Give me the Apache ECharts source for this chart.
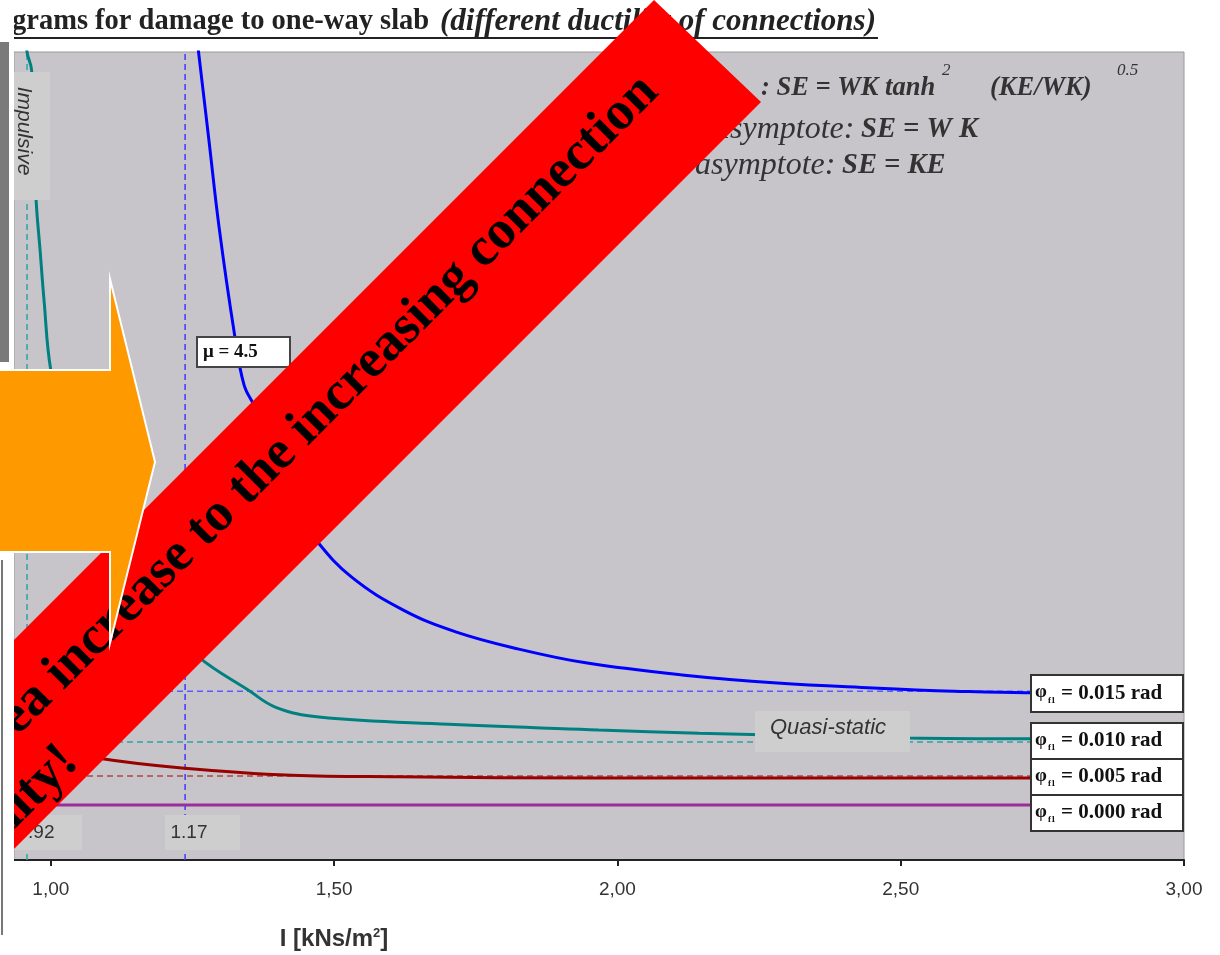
<!DOCTYPE html>
<html>
<head>
<meta charset="utf-8">
<script src="https://cdn.jsdelivr.net/npm/echarts@6/dist/echarts.min.js"></script>
<style>
  html, body { margin: 0; padding: 0; background: #fff; }
  #chart { width: 1220px; height: 955px; }
</style>
</head>
<body>
<div id="chart"></div>
<script>
// impulse i [kNs/m2] and strain energy (relative units)
const xTicks = [1.0, 1.5, 2.0, 2.5, 3.0];

const iPhi015 = [1.254, 1.279, 1.297, 1.323, 1.341, 1.362, 1.402, 1.438, 1.468, 1.531, 1.623, 1.716, 1.826, 1.944, 2.114, 2.282, 2.451, 2.594, 2.721, 3.0];
const sePhi015 = [104, 89.1, 78.3, 65.6, 58.8, 55.8, 48.3, 43.0, 39.6, 35.0, 30.9, 28.2, 26.1, 24.4, 22.9, 21.9, 21.3, 20.9, 20.7, 20.7];

const iPhi010 = [0.956, 0.958, 0.966, 0.970, 0.974, 0.981, 0.988, 1.000, 1.032, 1.085, 1.155, 1.261, 1.349, 1.397, 1.473, 1.702, 1.967, 2.144, 2.514, 2.726, 3.0];
const sePhi010 = [103, 100, 97.8, 90, 81.7, 75.5, 69.3, 60.6, 50.7, 40.8, 32.2, 25.1, 21.0, 18.9, 17.7, 16.8, 16.1, 15.7, 15.1, 15.0, 15.0];

const iPhi005 = [0.99, 1.05, 1.085, 1.231, 1.425, 1.614, 1.967, 3.0];
const sePhi005 = [16.5, 13.4, 12.6, 11.4, 10.5, 10.3, 10.15, 10.15];

const iPhi000 = [0.935, 3.0];
const sePhi000 = [6.8, 6.8];

// quasi-static asymptotes (dashed) and impulsive asymptotes (vertical dashed)
const asymptoteSE = [20.9, 14.6, 10.4];
const asymptoteI = [0.958, 1.237];
const asymptoteLabels = ['0.92', '1.17'];

const phiLabels = ['= 0.015 rad', '= 0.010 rad', '= 0.005 rad', '= 0.000 rad'];

const blue = '#0000ff', teal = '#008080', darkRed = '#990000', purple = '#9b2c9b';
const plotGray = '#c7c5c9';

const chart = echarts.init(document.getElementById('chart'));

function pairs(xs, ys) {
  return xs.map((x, i) => [x, ys[i]]);
}

function curve(xs, ys, color) {
  return {
    type: 'line',
    data: pairs(xs, ys),
    showSymbol: false,
    smooth: 0.4,
    lineStyle: { color: color, width: 3 },
    silent: true
  };
}

function dashed(data, color) {
  return {
    type: 'line',
    data: data,
    showSymbol: false,
    lineStyle: { color: color, width: 1.5, type: [6, 4] },
    silent: true,
    z: 1
  };
}

// boxes on the right end of curves
const phiBoxes = [];
const boxTops = [675, 723, 759, 795];
phiLabels.forEach((txt, k) => {
  const y = boxTops[k];
  const h = k === 0 ? 37 : 36;
  phiBoxes.push(
    { type: 'rect', z: 10, shape: { x: 1031, y: y, width: 152, height: h },
      style: { fill: '#fff', stroke: '#333', lineWidth: 2 } },
    { type: 'text', z: 11, x: 1035, y: y + h / 2 - 1,
      style: { text: 'φ', font: 'bold 19px "Liberation Serif"', fill: '#111', verticalAlign: 'middle' } },
    { type: 'text', z: 11, x: 1048, y: y + h / 2 + 7,
      style: { text: 'f1', font: 'bold 9px "Liberation Serif"', fill: '#111', verticalAlign: 'middle' } },
    { type: 'text', z: 11, x: 1061, y: y + h / 2,
      style: { text: txt, font: 'bold 21px "Liberation Serif"', fill: '#111', verticalAlign: 'middle' } }
  );
});

const eqRich = {
  i: { font: 'italic 32px "Liberation Serif"', fill: '#333' },
  b: { font: 'italic bold 28.5px "Liberation Serif"', fill: '#333' }
};

const option = {
  backgroundColor: '#fff',
  animation: false,
  grid: {
    left: 14, right: 36, top: 52, bottom: 95,
    show: true, backgroundColor: plotGray, borderColor: '#999', borderWidth: 1
  },
  xAxis: {
    type: 'value',
    min: 0.935,
    max: 3.0,
    splitLine: { show: false },
    axisLine: { lineStyle: { color: '#222', width: 2 } },
    axisTick: { show: true, length: 6, customValues: xTicks, lineStyle: { color: '#222', width: 2 } },
    axisLabel: {
      customValues: xTicks,
      margin: 20,
      fontSize: 19,
      fontFamily: 'Liberation Sans',
      color: '#333',
      formatter: v => v.toFixed(2).replace('.', ',')
    }
  },
  yAxis: { type: 'value', min: 0, max: 100, show: false },
  series: [
    dashed([[asymptoteI[0], 0], [asymptoteI[0], 100]], '#2aa5a5'),
    dashed([[asymptoteI[1], 0], [asymptoteI[1], 100]], '#3a3aff'),
    dashed([[asymptoteI[0], asymptoteSE[0]], [3.0, asymptoteSE[0]]], '#5a5aff'),
    dashed([[asymptoteI[0], asymptoteSE[1]], [3.0, asymptoteSE[1]]], '#2aa5a5'),
    dashed([[asymptoteI[0], asymptoteSE[2]], [3.0, asymptoteSE[2]]], '#b04848'),
    curve(iPhi000, sePhi000, purple),
    curve(iPhi005, sePhi005, darkRed),
    curve(iPhi010, sePhi010, teal),
    curve(iPhi015, sePhi015, blue)
  ],
  graphic: [
    // title
    { type: 'text', z: 5, x: 12, y: 22,
      style: { text: 'grams for damage to one-way slab', font: 'bold 28.5px "Liberation Serif"', fill: '#222', verticalAlign: 'middle' } },
    { type: 'text', z: 5, x: 440, y: 22,
      style: { text: '(different ductility of connections)', font: 'italic bold 31px "Liberation Serif"', fill: '#222', verticalAlign: 'middle' } },
    { type: 'line', z: 5, shape: { x1: 12, y1: 38, x2: 878, y2: 38 }, style: { stroke: '#222', lineWidth: 2 } },

    // formulas
    { type: 'text', z: 5, x: 761, y: 88,
      style: { text: ': SE = WK tanh', font: 'italic bold 26.5px "Liberation Serif"', fill: '#333', verticalAlign: 'middle' } },
    { type: 'text', z: 5, x: 942, y: 71,
      style: { text: '2', font: 'italic 17px "Liberation Serif"', fill: '#333', verticalAlign: 'middle' } },
    { type: 'text', z: 5, x: 990, y: 88,
      style: { text: '(KE/WK)', font: 'italic bold 26.5px "Liberation Serif"', fill: '#333', verticalAlign: 'middle' } },
    { type: 'text', z: 5, x: 1117, y: 71,
      style: { text: '0.5', font: 'italic 17px "Liberation Serif"', fill: '#333', verticalAlign: 'middle' } },
    { type: 'text', z: 5, x: 714, y: 130,
      style: { text: '{i|asymptote:}  {b|SE = W K}', verticalAlign: 'middle', rich: eqRich } },
    { type: 'text', z: 5, x: 695, y: 166,
      style: { text: '{i|asymptote:}  {b|SE = KE}', verticalAlign: 'middle', rich: eqRich } },

    // region labels
    { type: 'rect', z: 10, shape: { x: 14, y: 72, width: 36, height: 128 }, style: { fill: '#cfcecf' } },
    { type: 'text', z: 11, x: 24, y: 131, rotation: -Math.PI / 2,
      style: { text: 'Impulsive', font: 'italic 21px "Liberation Sans"', fill: '#333', align: 'center', verticalAlign: 'middle' } },
    { type: 'rect', z: 10, shape: { x: 755, y: 711, width: 155, height: 41 }, style: { fill: '#cfcecf' } },
    { type: 'text', z: 11, x: 828, y: 728,
      style: { text: 'Quasi-static', font: 'italic 22px "Liberation Sans"', fill: '#333', align: 'center', verticalAlign: 'middle' } },
    { type: 'rect', z: 10, shape: { x: 14, y: 815, width: 68, height: 35 }, style: { fill: '#cfcecf' } },
    { type: 'text', z: 11, x: 36, y: 833,
      style: { text: asymptoteLabels[0], font: '19px "Liberation Sans"', fill: '#333', align: 'center', verticalAlign: 'middle' } },
    { type: 'rect', z: 10, shape: { x: 165, y: 815, width: 75, height: 35 }, style: { fill: '#cfcecf' } },
    { type: 'text', z: 11, x: 189, y: 833,
      style: { text: asymptoteLabels[1], font: '19px "Liberation Sans"', fill: '#333', align: 'center', verticalAlign: 'middle' } },
    { type: 'rect', z: 10, shape: { x: 197, y: 337, width: 93, height: 30 }, style: { fill: '#fff', stroke: '#444', lineWidth: 2 } },
    { type: 'text', z: 11, x: 203, y: 352,
      style: { text: 'μ = 4.5', font: 'bold 19px "Liberation Serif"', fill: '#111', verticalAlign: 'middle' } },
    ...phiBoxes,

    // axis title
    { type: 'text', z: 5, x: 334, y: 939,
      style: { text: '{a|I [kNs/m}{s|2}{a|]}', align: 'center', verticalAlign: 'middle',
        rich: { a: { font: 'bold 24px "Liberation Sans"', fill: '#333' }, s: { font: 'bold 13px "Liberation Sans"', fill: '#333', padding: [0, 0, 12, 0] } } } },

    // red banner
    { type: 'polygon', z: 20, shape: { points: [[654, 0], [761, 102], [14, 849], [14, 640]] }, style: { fill: '#ff0000' } },
    { type: 'text', z: 21, x: 650, y: 84, rotation: Math.PI / 4,
      style: { text: 'Damage area increase to the increasing connection', font: 'bold 54px "Liberation Serif"', fill: '#000', align: 'right', verticalAlign: 'middle' } },
    { type: 'text', z: 21, x: 70, y: 754, rotation: Math.PI / 4,
      style: { text: 'ductility!', font: 'bold 54px "Liberation Serif"', fill: '#000', align: 'right', verticalAlign: 'middle' } },

    // left strip of the slide
    { type: 'rect', z: 25, shape: { x: 0, y: 0, width: 14, height: 955 }, style: { fill: '#fff' } },
    { type: 'rect', z: 26, shape: { x: 0, y: 42, width: 9, height: 320 }, style: { fill: '#7a7a7a' } },
    { type: 'line', z: 26, shape: { x1: 2, y1: 560, x2: 2, y2: 935 }, style: { stroke: '#777', lineWidth: 2 } },

    // orange arrow
    { type: 'polygon', z: 30,
      shape: { points: [[-4, 370], [110, 370], [110, 279], [155, 462], [110, 643], [110, 552], [-4, 552]] },
      style: { fill: '#ff9900', stroke: '#fff', lineWidth: 2 } }
  ]
};

chart.setOption(option);
</script>
</body>
</html>
